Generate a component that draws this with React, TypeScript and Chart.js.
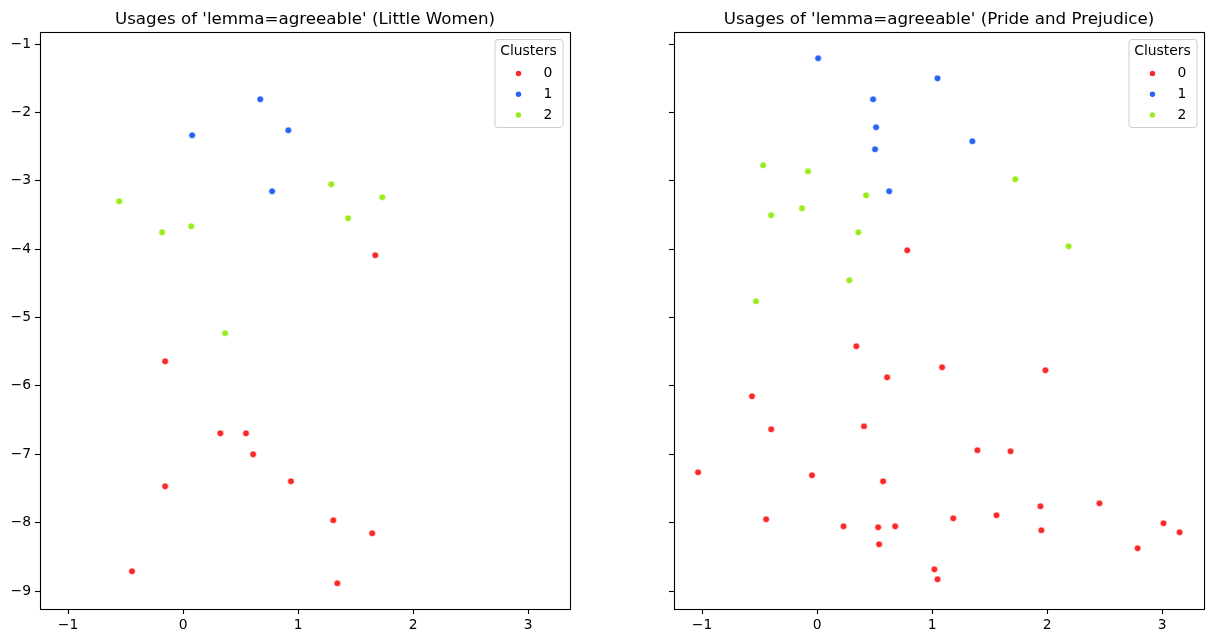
import React, { useEffect, useRef } from "react";
import { Chart, registerables } from "chart.js";

Chart.register(...registerables);

// Cluster labels and colours shared by both panels
const clusterLabels = ["0", "1", "2"];
const clusterColors = ["#fb2828", "#2662f4", "#99ec1c"];

// Shared axis ticks and limits
const xTicks = [-1, 0, 1, 2, 3];
const yTicks = [-1, -2, -3, -4, -5, -6, -7, -8, -9];
const xLimits = [-1.244, 3.364];
const yLimits = [-9.263, -0.8245];

// Little Women
const lwCluster0X = [1.671, -0.156, 0.324, 0.547, 0.609, -0.156, 0.938, 1.306, 1.644, -0.444, 1.341];
const lwCluster0Y = [-4.09, -5.641, -6.694, -6.694, -7.001, -7.469, -7.396, -7.966, -8.156, -8.712, -8.887];
const lwCluster1X = [0.671, 0.079, 0.915, 0.774];
const lwCluster1Y = [-1.809, -2.335, -2.262, -3.154];
const lwCluster2X = [-0.556, -0.182, 0.071, 1.288, 1.732, 1.435, 0.365];
const lwCluster2Y = [-3.301, -3.754, -3.666, -3.052, -3.242, -3.549, -5.231];

// Pride and Prejudice
const ppCluster0X = [
  0.784, 0.341, 1.087, 1.985, 0.609, -0.566, -0.399, 0.408, 1.394, 1.682, -1.035, -0.044, 0.574, -0.443,
  0.23, 0.531, 0.679, 0.539, 1.184, 1.56, 1.942, 1.95, 2.455, 2.787, 3.012, 3.152, 1.02, 1.047,
];
const ppCluster0Y = [
  -4.017, -5.421, -5.728, -5.772, -5.875, -6.152, -6.635, -6.591, -6.942, -6.957, -7.264, -7.308, -7.396,
  -7.951, -8.054, -8.068, -8.054, -8.317, -7.937, -7.893, -7.761, -8.112, -7.718, -8.375, -8.01, -8.142,
  -8.683, -8.829,
];
const ppCluster1X = [0.009, 1.047, 0.487, 0.513, 0.504, 1.35, 0.627];
const ppCluster1Y = [-1.209, -1.502, -1.809, -2.218, -2.54, -2.423, -3.154];
const ppCluster2X = [-0.469, -0.079, 1.723, 0.426, -0.399, -0.131, 0.359, 2.187, 0.28, -0.531];
const ppCluster2Y = [-2.774, -2.862, -2.979, -3.213, -3.505, -3.403, -3.754, -3.959, -4.456, -4.763];

const FONT = "'DejaVu Sans', 'Liberation Sans', sans-serif";
const minus = (v: number) => String(v).replace("-", "\u2212");

type Cluster = { xs: number[]; ys: number[] };

function toPoints(c: Cluster) {
  return c.xs.map((x, i) => ({ x, y: c.ys[i] }));
}

function Panel(props: { title: string; clusters: Cluster[]; showYLabels: boolean; left: number }) {
  const ref = useRef<HTMLCanvasElement | null>(null);

  useEffect(() => {
    if (!ref.current) return;
    const title = props.title;

    // Axes frame, title and the "Clusters" legend box
    const decorations = {
      id: "panelDecorations",
      afterDraw(chart: any) {
        const { ctx, chartArea } = chart;
        const { left, right, top, bottom } = chartArea;
        ctx.save();
        ctx.strokeStyle = "#000";
        ctx.lineWidth = 1.1;
        ctx.strokeRect(Math.round(left) + 0.5, Math.round(top) + 0.5, Math.round(right - left), Math.round(bottom - top));

        ctx.fillStyle = "#000";
        ctx.font = `16.7px ${FONT}`;
        ctx.textAlign = "center";
        ctx.textBaseline = "alphabetic";
        ctx.fillText(title, (left + right) / 2, top - 8);

        const boxRight = right - 7.5;
        const boxW = 68;
        const boxH = 88;
        const boxLeft = boxRight - boxW;
        const boxTop = top + 7;
        ctx.beginPath();
        ctx.roundRect(boxLeft + 0.5, boxTop + 0.5, boxW, boxH, 3);
        ctx.fillStyle = "rgba(255,255,255,0.8)";
        ctx.fill();
        ctx.strokeStyle = "#cccccc";
        ctx.lineWidth = 1;
        ctx.stroke();

        ctx.fillStyle = "#000";
        ctx.font = `13.9px ${FONT}`;
        ctx.textAlign = "center";
        ctx.textBaseline = "middle";
        ctx.fillText("Clusters", boxLeft + boxW / 2, top + 19.5);

        chart.data.datasets.forEach((ds: any, i: number) => {
          const cy = top + 41.5 + i * 20.7;
          ctx.beginPath();
          ctx.arc(boxRight - 44, cy, 2.7, 0, Math.PI * 2);
          ctx.fillStyle = ds.backgroundColor;
          ctx.fill();
          ctx.fillStyle = "#000";
          ctx.textAlign = "left";
          ctx.fillText(ds.label, boxRight - 19, cy);
        });
        ctx.restore();
      },
    };

    const chart = new Chart(ref.current, {
      type: "scatter",
      data: {
        datasets: props.clusters.map((c, i) => ({
          label: clusterLabels[i],
          data: toPoints(c),
          backgroundColor: clusterColors[i],
          borderColor: "#ffffff",
          borderWidth: 0.6,
          pointRadius: 3.3,
        })),
      },
      options: {
        responsive: false,
        animation: false,
        layout: { padding: { left: 0, right: 8, top: 32, bottom: 0 } },
        plugins: { legend: { display: false }, title: { display: false }, tooltip: { enabled: false } },
        scales: {
          x: {
            type: "linear",
            min: xLimits[0],
            max: xLimits[1],
            afterBuildTicks: (scale: any) => {
              scale.ticks = xTicks.map((v) => ({ value: v }));
            },
            afterFit: (scale: any) => {
              scale.height = 34;
            },
            border: { display: false },
            grid: { drawOnChartArea: false, drawTicks: true, tickLength: 5, tickColor: "#000", tickWidth: 1.1 },
            ticks: {
              color: "#000",
              padding: 3,
              font: { family: FONT, size: 13.9 },
              maxRotation: 0,
              callback: (v: any) => minus(Number(v)),
            },
          },
          y: {
            type: "linear",
            min: yLimits[0],
            max: yLimits[1],
            afterBuildTicks: (scale: any) => {
              scale.ticks = yTicks.map((v) => ({ value: v }));
            },
            afterFit: (scale: any) => {
              scale.width = 40;
            },
            border: { display: false },
            grid: { drawOnChartArea: false, drawTicks: true, tickLength: 5, tickColor: "#000", tickWidth: 1.1 },
            ticks: {
              display: props.showYLabels,
              color: "#000",
              padding: 4,
              font: { family: FONT, size: 13.9 },
              callback: (v: any) => minus(Number(v)),
            },
          },
        },
      },
      plugins: [decorations],
    });
    return () => chart.destroy();
  }, []);

  return (
    <div style={{ position: "absolute", left: props.left, top: 0, width: 578, height: 643 }}>
      <canvas ref={ref} width={578} height={643} style={{ width: 578, height: 643 }} />
    </div>
  );
}

export default function App() {
  return (
    <div style={{ position: "fixed", left: 0, top: 0, width: 1212, height: 643, background: "#fff" }}>
      <Panel
        title="Usages of 'lemma=agreeable' (Little Women)"
        left={0}
        showYLabels={true}
        clusters={[
          { xs: lwCluster0X, ys: lwCluster0Y },
          { xs: lwCluster1X, ys: lwCluster1Y },
          { xs: lwCluster2X, ys: lwCluster2Y },
        ]}
      />
      <Panel
        title="Usages of 'lemma=agreeable' (Pride and Prejudice)"
        left={634}
        showYLabels={false}
        clusters={[
          { xs: ppCluster0X, ys: ppCluster0Y },
          { xs: ppCluster1X, ys: ppCluster1Y },
          { xs: ppCluster2X, ys: ppCluster2Y },
        ]}
      />
    </div>
  );
}
